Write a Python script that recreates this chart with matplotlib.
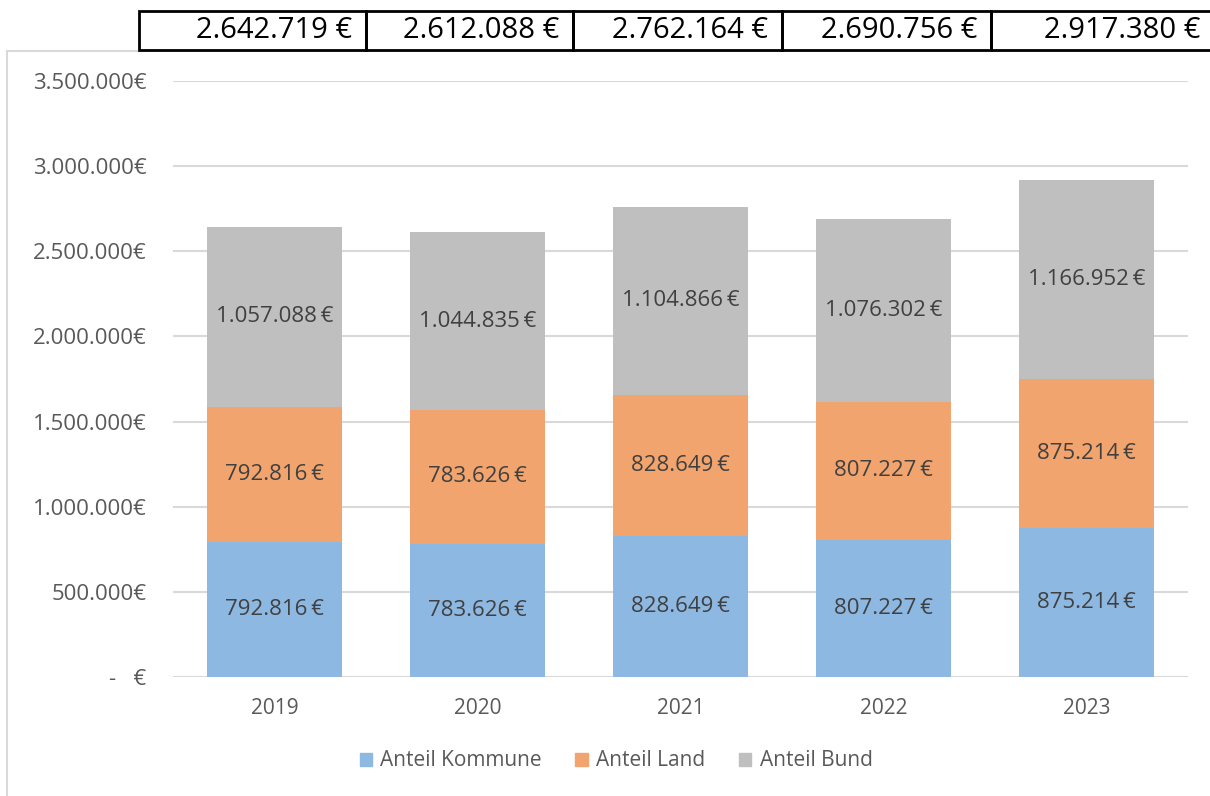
import numpy as np
import matplotlib
matplotlib.use("Agg")
import matplotlib.pyplot as plt
from matplotlib.patches import Rectangle, Patch

plt.rcParams['font.family'] = ['Open Sans', 'DejaVu Sans']

years = ["2019", "2020", "2021", "2022", "2023"]
kommune = [792816, 783626, 828649, 807227, 875214]
land = [792816, 783626, 828649, 807227, 875214]
bund = [1057088, 1044835, 1104866, 1076302, 1166952]
totals = [2642719, 2612088, 2762164, 2690756, 2917380]
series_names = ["Anteil Kommune", "Anteil Land", "Anteil Bund"]
colors = ["#8db8e1", "#f1a46d", "#bfbfbf"]


def de(v):
    return f"{v:,.0f}".replace(",", ".")


W, H = 1210, 796
fig = plt.figure(figsize=(W / 100, H / 100), dpi=100)

# light frame around chart area
fig.patches.append(Rectangle((7 / W, -0.05), 1.1, 1 - 51 / H + 0.05,
                             transform=fig.transFigure, fill=False,
                             edgecolor="#d9d9d9", linewidth=1.5))

# totals row on top
edges = [139, 366, 573, 782, 991, 1216]
for i, t in enumerate(totals):
    x0, x1 = edges[i], edges[i + 1]
    fig.patches.append(Rectangle((x0 / W, 1 - 50 / H), (x1 - x0) / W, 39 / H,
                                 transform=fig.transFigure, fill=False,
                                 edgecolor="black", linewidth=2))
    xr = min(x1, 1214) - 14
    fig.text(xr / W, 1 - 31 / H, de(t) + " €", ha="right", va="center",
             fontsize=21, color="black")

ax = fig.add_axes([173 / W, 1 - 677 / H, (1188 - 173) / W, (677 - 81) / H])
x = np.arange(len(years))
width = 0.665
bottom = np.zeros(len(years))
for vals, c in zip([kommune, land, bund], colors):
    ax.bar(x, vals, width, bottom=bottom, color=c, zorder=2)
    for xi, b, v in zip(x, bottom, vals):
        ax.text(xi, b + v / 2, de(v) + "\u2009€", ha="center", va="center",
                fontsize=16, color="#404040", zorder=3)
    bottom = bottom + np.array(vals)

ax.set_xlim(-0.5, len(years) - 0.5)
ax.set_ylim(0, 3500000)
ticks = np.arange(0, 3500001, 500000)
ax.set_yticks(ticks)
ax.set_yticklabels(["-   €" if t == 0 else de(t) + "€" for t in ticks])
ax.set_xticks(x)
ax.set_xticklabels(years)
ax.tick_params(axis="y", length=0, pad=19, labelsize=16, labelcolor="#595959")
ax.tick_params(axis="x", length=0, pad=15, labelsize=15, labelcolor="#595959")
ax.grid(axis="y", color="#d9d9d9", linewidth=1.5, zorder=0)
for s in ax.spines.values():
    s.set_visible(False)

handles = [Patch(color=c) for c in colors]
fig.legend(handles, series_names, loc="center", bbox_to_anchor=(616 / W, 1 - 761 / H),
           ncol=3, frameon=False, fontsize=15, labelcolor="#595959",
           handlelength=0.6, handleheight=0.6, handletextpad=0.4, columnspacing=1.6)

fig.savefig("out.png", dpi=100)
